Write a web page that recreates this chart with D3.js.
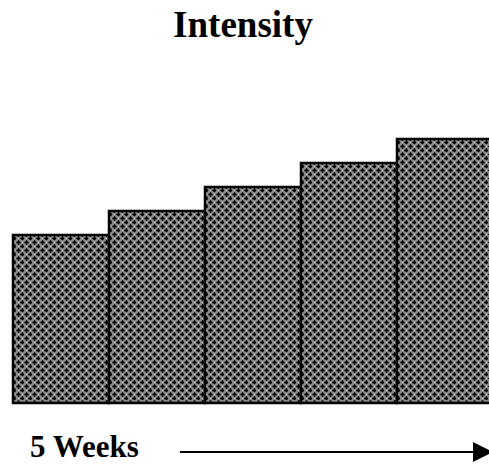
<!DOCTYPE html>
<html>
<head>
<meta charset="utf-8">
<script src="https://cdn.jsdelivr.net/npm/d3@7"></script>
<style>
  html, body { margin: 0; padding: 0; background: #fff; overflow: hidden; }
</style>
</head>
<body>
<div id="chart"></div>
<script>
const width = 489;
const height = 464;

// intensity per week (no axis shown)
const weeks = ["Week 1", "Week 2", "Week 3", "Week 4", "Week 5"];
const intensity = [7, 8, 9, 10, 11];
const title = "Intensity";
const xLabel = "5 Weeks";

const fontFamily = "'Liberation Serif', 'Times New Roman', serif";

const svg = d3.select("#chart").append("svg")
  .attr("width", width)
  .attr("height", height)
  .attr("font-family", fontFamily);

// black crosses on grey with white dots, like the old office fill
const defs = svg.append("defs");
const pat = defs.append("pattern")
  .attr("id", "cross")
  .attr("patternUnits", "userSpaceOnUse")
  .attr("width", 8)
  .attr("height", 8);
pat.append("rect").attr("width", 8).attr("height", 8).attr("fill", "#858585");
[[2, 2], [6, 6]].forEach(([cx, cy]) => {
  pat.append("rect").attr("x", cx - 1).attr("y", cy - 1).attr("width", 3).attr("height", 3).attr("fill", "#3a3a3a");
  pat.append("rect").attr("x", cx - 2).attr("y", cy).attr("width", 5).attr("height", 1).attr("fill", "#000");
  pat.append("rect").attr("x", cx).attr("y", cy - 2).attr("width", 1).attr("height", 5).attr("fill", "#000");
});
[[6, 2], [2, 6]].forEach(([cx, cy]) => {
  pat.append("rect").attr("x", cx).attr("y", cy).attr("width", 1).attr("height", 1).attr("fill", "#fff");
});

const x = d3.scaleBand()
  .domain(weeks)
  .range([13, 493])
  .padding(0);

const y = d3.scaleLinear()
  .domain([0, 11])
  .range([403, 139]);

svg.append("g")
  .selectAll("rect")
  .data(weeks)
  .enter().append("rect")
  .attr("x", d => x(d))
  .attr("y", (d, i) => y(intensity[i]))
  .attr("width", x.bandwidth())
  .attr("height", (d, i) => y(0) - y(intensity[i]))
  .attr("fill", "url(#cross)")
  .attr("stroke", "#000")
  .attr("stroke-width", 2.5);

svg.append("text")
  .attr("x", 243)
  .attr("y", 37)
  .attr("text-anchor", "middle")
  .attr("font-weight", "bold")
  .attr("font-size", 37)
  .text(title);

svg.append("text")
  .attr("x", 30)
  .attr("y", 457)
  .attr("font-weight", "bold")
  .attr("font-size", 31)
  .text(xLabel);

// time arrow
defs.append("marker")
  .attr("id", "head")
  .attr("viewBox", "0 0 10 10")
  .attr("refX", 10)
  .attr("refY", 5)
  .attr("markerUnits", "userSpaceOnUse")
  .attr("markerWidth", 20)
  .attr("markerHeight", 20)
  .attr("orient", "auto")
  .append("path")
  .attr("d", "M0,0L10,5L0,10Z")
  .attr("fill", "#000");

svg.append("line")
  .attr("x1", 180)
  .attr("x2", 493)
  .attr("y1", 452)
  .attr("y2", 452)
  .attr("stroke", "#000")
  .attr("stroke-width", 2)
  .attr("marker-end", "url(#head)");
</script>
</body>
</html>
